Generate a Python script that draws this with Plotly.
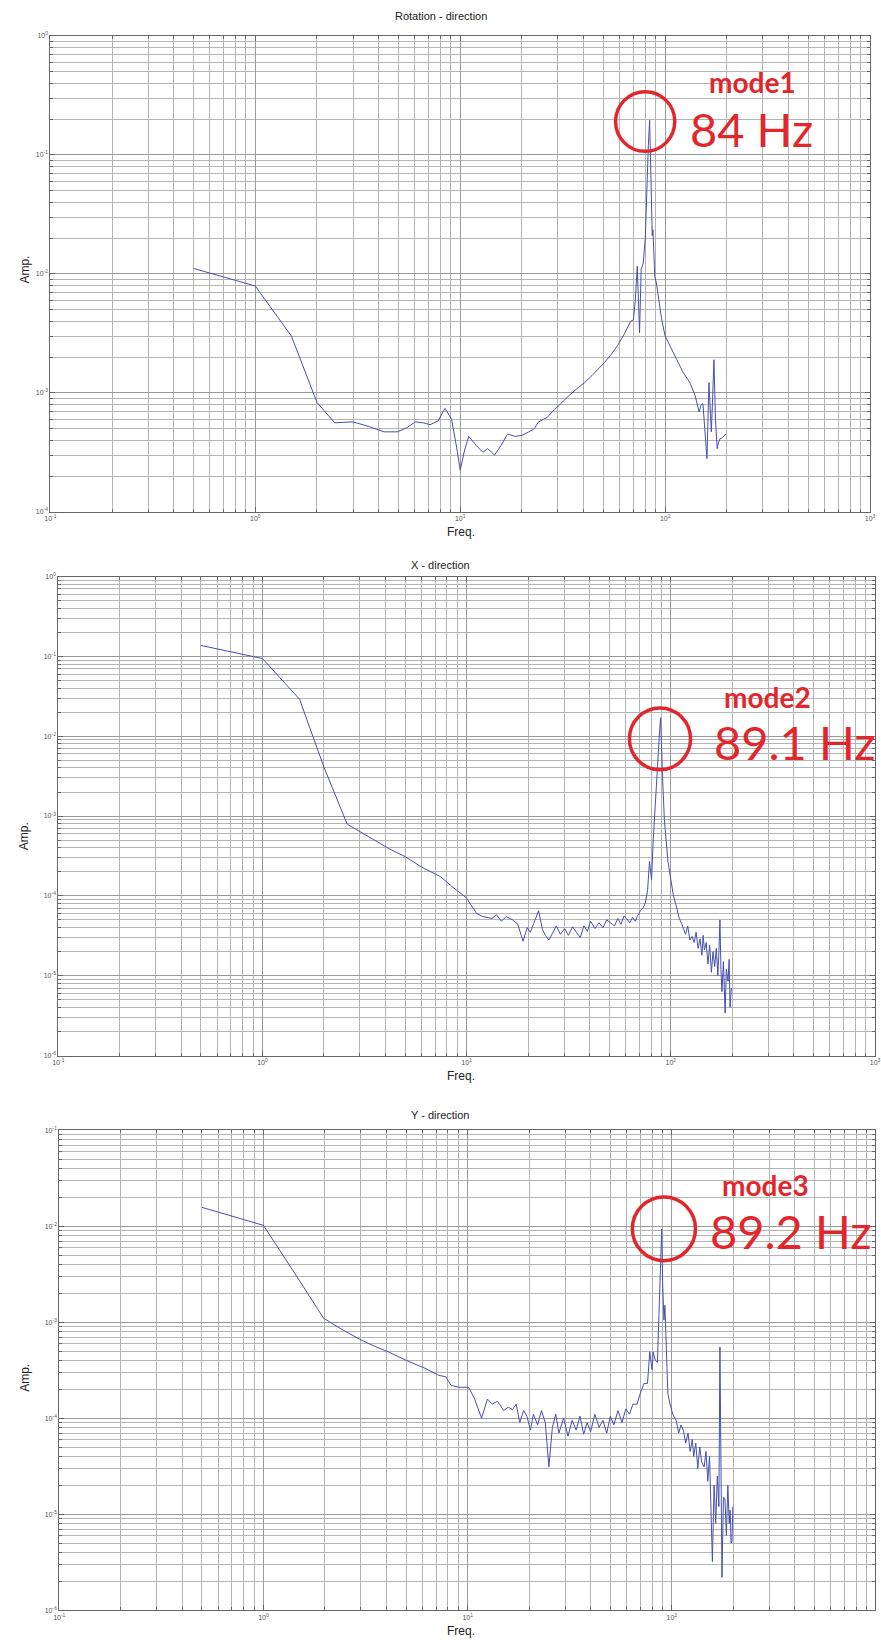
import plotly.graph_objects as go

W, H = 881, 1645

panel_titles = ["Rotation - direction", "X - direction", "Y - direction"]
mode_labels = ["mode1", "mode2", "mode3"]
mode_freq_labels = ["84 Hz", "89.1 Hz", "89.2 Hz"]

rot_points = [
    (0.5, 0.0111), (1.0, 0.0079), (1.5, 0.0030), (2.0, 0.00083), (2.44, 0.00056),
    (3.0, 0.00057), (3.6, 0.00052), (4.25, 0.00047), (4.93, 0.00047), (5.5, 0.00051),
    (6.04, 0.00057), (6.6, 0.00056), (7.13, 0.00054), (7.8, 0.00058), (8.42, 0.00074),
    (9.07, 0.0006), (9.6, 0.00035), (10.0, 0.000224), (10.5, 0.00033), (11.0, 0.00043),
    (12.0, 0.00036), (12.9, 0.000317), (13.6, 0.00034), (14.7, 0.0003), (15.8, 0.00036),
    (17.0, 0.00045), (18.6, 0.00043), (20.0, 0.00044), (21.6, 0.00047), (23.0, 0.0005),
    (24.1, 0.00057), (26.5, 0.00062), (28.8, 0.00072), (31.3, 0.00083), (34.0, 0.00095),
    (37.0, 0.00108), (40.5, 0.00122), (44.0, 0.0014), (47.5, 0.0016), (50.6, 0.0018),
    (54.5, 0.0021), (58.6, 0.0025), (63.0, 0.0031), (68.0, 0.0040), (70.0, 0.0041),
    (71.5, 0.006), (73.1, 0.0116), (74.0, 0.006), (75.0, 0.0032), (76.4, 0.011),
    (78.2, 0.0123), (80.0, 0.02), (81.5, 0.06), (82.8, 0.12), (84.0, 0.195),
    (85.0, 0.08), (85.8, 0.03), (86.5, 0.021), (87.2, 0.0235), (88.0, 0.012),
    (89.0, 0.0095), (90.6, 0.0084), (93.0, 0.0061), (96.0, 0.0042), (100.0, 0.003),
    (107.0, 0.0024), (114.0, 0.0019), (122.0, 0.0015), (132.0, 0.00122), (140.0, 0.00095),
    (146.5, 0.00069), (150.0, 0.0008), (153.0, 0.00081), (156.0, 0.0005), (160.0, 0.00028),
    (163.6, 0.00122), (166.0, 0.0006), (168.0, 0.00047), (170.5, 0.0009), (173.0, 0.0019),
    (176.0, 0.0006), (179.5, 0.00034), (182.0, 0.00038), (185.0, 0.00041), (190.0, 0.00042),
    (194.0, 0.00044), (198.0, 0.00045),
]

x_points = [
    (0.5, 0.137), (1.0, 0.094), (1.52, 0.029), (2.0, 0.0041), (2.6, 0.00079),
    (3.2, 0.00058), (4.17, 0.00039), (5.0, 0.00031), (6.0, 0.00023), (7.45, 0.000174),
    (8.5, 0.00013), (9.96, 9.5e-5), (11.2, 6e-5), (12.0, 5.5e-5), (13.3, 5.2e-5),
    (14.0, 5.8e-5), (14.8, 4.8e-5), (15.6, 5.5e-5), (16.8, 5.0e-5), (17.8, 4.4e-5),
    (18.9, 2.7e-5), (19.8, 4.0e-5), (20.5, 3.5e-5), (21.3, 4.5e-5), (22.5, 6.5e-5),
    (23.5, 3.8e-5), (24.3, 3.2e-5), (25.3, 2.8e-5), (26.5, 3.6e-5), (27.5, 4.2e-5),
    (28.8, 3.3e-5), (30.2, 3.9e-5), (31.5, 3.2e-5), (33.0, 4.1e-5), (34.5, 3.5e-5),
    (36.0, 3.0e-5), (37.5, 4.2e-5), (39.0, 3.6e-5), (40.5, 4.8e-5), (42.5, 3.9e-5),
    (44.5, 4.6e-5), (46.5, 4.0e-5), (48.5, 5.0e-5), (51.0, 4.5e-5), (53.0, 4.2e-5),
    (55.0, 5.2e-5), (57.0, 4.4e-5), (59.0, 5.6e-5), (60.8, 5.2e-5), (63.0, 4.6e-5),
    (65.0, 5.4e-5), (67.0, 4.8e-5), (68.4, 5.5e-5), (71.0, 6.5e-5), (73.0, 7.0e-5),
    (75.0, 8.1e-5), (77.0, 1.2e-4), (78.6, 2.7e-4), (80.5, 1.6e-4), (82.0, 5e-4),
    (83.3, 1.07e-3), (85.0, 2.2e-3), (86.5, 5e-3), (88.0, 0.011), (89.1, 0.017),
    (90.0, 0.006), (91.5, 0.0023), (93.0, 0.0009), (95.0, 4.5e-4), (96.8, 2.7e-4),
    (100.0, 1.6e-4), (103.0, 1.0e-4), (106.0, 7.7e-5), (110.0, 5.2e-5), (113.0, 4.5e-5),
    (115.6, 3.9e-5), (118.0, 3.3e-5), (121.0, 4.2e-5), (124.0, 2.8e-5), (127.0, 3.1e-5),
    (130.0, 2.6e-5), (133.0, 3.5e-5), (136.0, 2.2e-5), (139.0, 2.9e-5), (142.0, 1.8e-5),
    (144.0, 3.2e-5), (146.0, 2.1e-5), (149.0, 2.6e-5), (152.0, 1.4e-5), (155.0, 2.4e-5),
    (158.0, 1.1e-5), (161.0, 2.0e-5), (164.0, 1.3e-5), (167.0, 2.2e-5), (170.0, 1.0e-5),
    (172.0, 2.0e-5), (174.0, 5.0e-5), (176.0, 1.2e-5), (178.0, 6.3e-6), (181.0, 1.5e-5),
    (184.5, 3.4e-6), (187.0, 1.2e-5), (190.7, 8.5e-6), (193.0, 1.6e-5), (195.0, 4e-6),
    (198.0, 7e-6),
]

y_points = [
    (0.5, 0.0157), (1.0, 0.0102), (1.47, 0.0029), (1.97, 0.0011), (2.4, 0.00085),
    (2.9, 0.00068), (3.5, 0.00056), (4.1, 0.00049), (5.0, 0.0004), (6.2, 0.00033),
    (7.2, 0.00028), (7.8, 0.00027), (8.3, 0.00022), (9.0, 0.00021), (10.1, 0.00021),
    (10.8, 0.00016), (11.7, 0.0001), (12.5, 0.000158), (13.2, 0.00014), (14.0, 0.00015),
    (15.0, 0.00012), (15.8, 0.00013), (16.6, 0.000123), (17.3, 0.00014), (18.0, 9e-5),
    (18.8, 0.00012), (19.5, 0.000105), (20.3, 7.5e-5), (21.0, 0.00011), (22.0, 8.5e-5),
    (23.0, 0.00012), (24.0, 9e-5), (25.0, 3.1e-5), (26.0, 8e-5), (27.0, 0.00011),
    (28.0, 7e-5), (29.5, 0.0001), (31.0, 6.5e-5), (32.5, 9.5e-5), (34.0, 7.5e-5),
    (35.5, 0.000105), (37.0, 6.8e-5), (38.5, 9e-5), (40.0, 7.2e-5), (42.0, 0.00011),
    (44.0, 8e-5), (46.0, 9.5e-5), (48.0, 7e-5), (50.0, 0.000105), (52.0, 8.5e-5),
    (54.5, 0.00012), (57.0, 9e-5), (59.5, 0.000125), (62.0, 0.00011), (64.5, 0.00014),
    (67.6, 0.00014), (70.0, 0.00018), (73.0, 0.00023), (76.0, 0.00023), (78.0, 0.00049),
    (80.0, 0.00032), (81.0, 0.00049), (83.0, 0.0004), (85.0, 0.00038), (86.5, 0.0012),
    (88.0, 0.004), (89.2, 0.0093), (90.2, 0.0025), (91.5, 0.00105), (92.5, 0.0015),
    (93.5, 0.0006), (95.6, 0.00018), (98.0, 0.00014), (101.0, 0.00011), (105.0, 9.5e-5),
    (108.0, 7e-5), (111.0, 8.5e-5), (114.0, 7.4e-5), (117.0, 5.5e-5), (120.0, 7e-5),
    (123.0, 4.5e-5), (126.0, 6e-5), (128.0, 4e-5), (131.0, 5.5e-5), (134.0, 3e-5),
    (137.0, 5e-5), (140.0, 3.5e-5), (144.0, 3.1e-5), (147.0, 4.5e-5), (150.0, 2.2e-5),
    (153.0, 4e-5), (156.0, 1e-5), (158.0, 3.2e-6), (161.0, 2e-5), (164.0, 8e-6),
    (167.0, 2.5e-5), (170.0, 1.2e-5), (172.0, 5.5e-4), (174.0, 1e-5), (176.0, 2.2e-6),
    (179.0, 1.5e-5), (182.0, 1.45e-5), (185.0, 6e-6), (188.0, 2e-5), (191.0, 8e-6),
    (193.0, 1.1e-5), (195.0, 5e-6), (197.0, 5.2e-6), (199.0, 1.2e-5),
]

x_decades = [-1, 0, 1, 2, 3]
y_decades = [[-4, -3, -2, -1, 0], [-6, -5, -4, -3, -2, -1, 0], [-6, -5, -4, -3, -2, -1]]

# layout geometry (pixels)
panels_px = [
    dict(x0=45, x1=876, y0=32, y1=510, xr=[-1, 3], yr=[-4, 0]),
    dict(x0=53, x1=881, y0=575, y1=1056, xr=[-1, 3], yr=[-6, 0]),
    dict(x0=54, x1=881, y0=1131, y1=1613, xr=[-1, 2.995], yr=[-6, -1]),
]

LINE = "#4650b0"
RED = "#e3262c"
GRID_MAJ = "#9a9a9a"
GRID_MIN = "#b4b4b4"

fig = go.Figure()
datasets = [rot_points, x_points, y_points]
for i, pts in enumerate(datasets):
    f = [p[0] for p in pts]
    a = [p[1] for p in pts]
    sfx = "" if i == 0 else str(i + 1)
    fig.add_trace(go.Scatter(x=f, y=a, mode="lines", line=dict(color=LINE, width=1),
                             xaxis="x" + sfx, yaxis="y" + sfx, showlegend=False,
                             hoverinfo="skip"))

def px_x(v):
    return v / W

def px_y(v):
    return 1 - v / H

layout = dict(width=W, height=H, margin=dict(l=0, r=0, t=0, b=0),
              paper_bgcolor="white", plot_bgcolor="white", showlegend=False)

tickfont = dict(family="Liberation Sans, Arial", size=7, color="#555")
for i, p in enumerate(panels_px):
    sfx = "" if i == 0 else str(i + 1)
    common = dict(type="log", tickfont=tickfont, showgrid=True, gridcolor=GRID_MAJ,
                  gridwidth=1,
                  minor=dict(dtick="D1", showgrid=True, gridcolor=GRID_MIN, gridwidth=1,
                             ticks="inside", ticklen=3, tickcolor="#666"),
                  ticks="inside", ticklen=5, tickcolor="#666",
                  showline=True, linecolor="#666", linewidth=1, mirror="ticks",
                  zeroline=False, fixedrange=True)
    xa = dict(common, range=p["xr"], domain=[px_x(p["x0"]), px_x(p["x1"])],
              anchor="y" + sfx, tickvals=[10 ** d for d in x_decades],
              ticktext=["10<sup>%d</sup>" % d for d in x_decades])
    ya = dict(common, range=p["yr"], domain=[px_y(p["y1"]), px_y(p["y0"])],
              anchor="x" + sfx, tickvals=[10 ** d for d in y_decades[i]],
              ticktext=["10<sup>%d</sup>" % d for d in y_decades[i]])
    layout["xaxis" + sfx] = xa
    layout["yaxis" + sfx] = ya

fig.update_layout(**layout)

lab_font = dict(family="Liberation Sans, Arial", size=11, color="#222")
title_y = [12, 563, 1116]
freq_y = [530, 1077, 1634]
amp_y = [267, 836, 1380]
for i in range(3):
    fig.add_annotation(x=px_x(441), y=px_y(title_y[i]), xref="paper", yref="paper",
                       text=panel_titles[i], showarrow=False, font=lab_font,
                       xanchor="center", yanchor="middle")
    fig.add_annotation(x=px_x(461), y=px_y(freq_y[i]), xref="paper", yref="paper",
                       text="Freq.", showarrow=False, font=dict(lab_font, size=12),
                       xanchor="center", yanchor="middle")
    fig.add_annotation(x=px_x(19), y=px_y(amp_y[i]), xref="paper", yref="paper",
                       text="Amp.", showarrow=False, font=dict(lab_font, size=12),
                       textangle=-90, xanchor="center", yanchor="middle")

circles = [(648, 118, 30), (663, 738, 31), (667, 1230, 32)]
mode_pos = [(757, 78), (772, 696), (770, 1186)]
hz_pos = [(691, 126), (716, 741), (712, 1232)]
for i in range(3):
    cx, cy, r = circles[i]
    fig.add_shape(type="circle", xref="paper", yref="paper",
                  x0=px_x(cx - r), x1=px_x(cx + r), y0=px_y(cy + r), y1=px_y(cy - r),
                  line=dict(color=RED, width=3.5))
    mx, my = mode_pos[i]
    fig.add_annotation(x=px_x(mx), y=px_y(my), xref="paper", yref="paper",
                       text="<b>%s</b>" % mode_labels[i], showarrow=False,
                       font=dict(family="Lato", size=28, color=RED),
                       xanchor="center", yanchor="middle")
    hx, hy = hz_pos[i]
    fig.add_annotation(x=px_x(hx), y=px_y(hy), xref="paper", yref="paper",
                       text=mode_freq_labels[i], showarrow=False,
                       font=dict(family="Lato", size=47, color=RED),
                       xanchor="left", yanchor="middle")

fig.write_html("out.html")
